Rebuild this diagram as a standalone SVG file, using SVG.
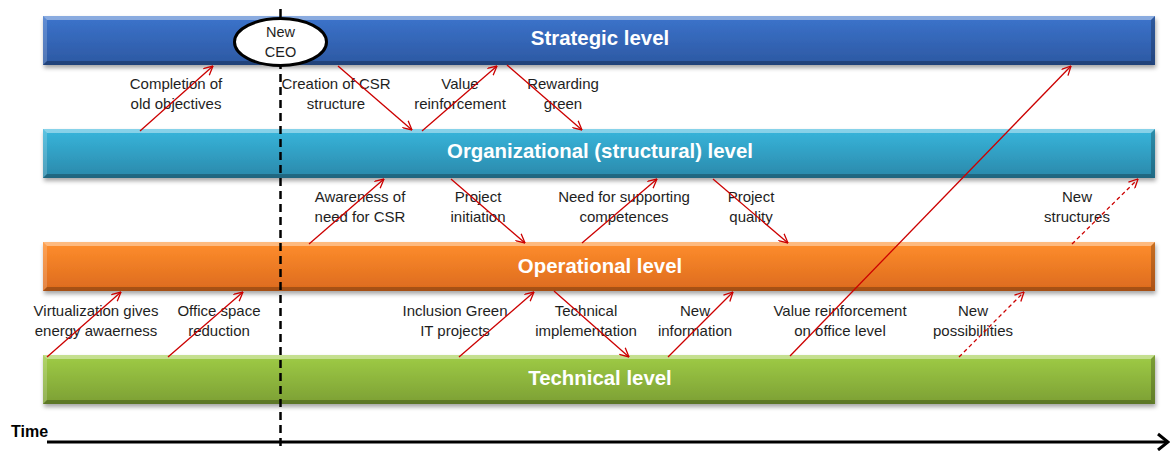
<svg xmlns="http://www.w3.org/2000/svg" width="1170" height="451" viewBox="0 0 1170 451">
<defs>
<style>
.lbl{font-family:"Liberation Sans",Arial,sans-serif;font-size:15px;fill:#1e1e1e;text-anchor:middle}
.title{font-family:"Liberation Sans",Arial,sans-serif;font-size:20.4px;font-weight:bold;fill:#ffffff;text-anchor:middle}
.arr{stroke:#cc0000;stroke-width:1.3;fill:none;marker-end:url(#ah)}
.dash{stroke-dasharray:4 3}
</style>
<filter id="sh" x="-2%" y="-20%" width="104%" height="150%">
<feDropShadow dx="1" dy="3" stdDeviation="2" flood-color="#000" flood-opacity="0.35"/>
</filter>
<marker id="ah" viewBox="0 0 10 10" refX="9.5" refY="5" markerWidth="10" markerHeight="10" markerUnits="userSpaceOnUse" orient="auto">
<path d="M0.5,0.5 L9.5,5 L0.5,9.5" fill="none" stroke="#cc0000" stroke-width="1.3"/>
</marker>
<linearGradient id="gS" x1="0" y1="0" x2="0" y2="1">
<stop offset="0" stop-color="#3c74cc"/><stop offset="1" stop-color="#2c58a2"/>
</linearGradient>
<linearGradient id="gO" x1="0" y1="0" x2="0" y2="1">
<stop offset="0" stop-color="#38b6dc"/><stop offset="1" stop-color="#2a88aa"/>
</linearGradient>
<linearGradient id="gP" x1="0" y1="0" x2="0" y2="1">
<stop offset="0" stop-color="#ff8e2c"/><stop offset="1" stop-color="#dc6a1e"/>
</linearGradient>
<linearGradient id="gT" x1="0" y1="0" x2="0" y2="1">
<stop offset="0" stop-color="#9fcc46"/><stop offset="1" stop-color="#7c9f34"/>
</linearGradient>
<g id="bevel">
<polygon points="0,0 1112,0 1108,4 4,4" fill="#ffffff" fill-opacity="0.4"/>
<polygon points="0,0 4,4 4,45 0,49" fill="#ffffff" fill-opacity="0.18"/>
<polygon points="1112,0 1112,49 1108,45 1108,4" fill="#000000" fill-opacity="0.22"/>
<polygon points="0,49 4,45 1108,45 1112,49" fill="#000000" fill-opacity="0.25"/>
</g>
</defs>
<rect width="1170" height="451" fill="#ffffff"/>

<g id="strategic" transform="translate(43,16)">
<rect width="1112" height="49" fill="url(#gS)" filter="url(#sh)"/>
<use href="#bevel"/>
<text class="title" x="557" y="29">Strategic level</text>
</g>
<g id="organizational" transform="translate(43,129)">
<rect width="1112" height="49" fill="url(#gO)" filter="url(#sh)"/>
<use href="#bevel"/>
<text class="title" x="557" y="29">Organizational (structural) level</text>
</g>
<g id="operational" transform="translate(43,242)">
<rect width="1112" height="49" fill="url(#gP)" filter="url(#sh)"/>
<use href="#bevel"/>
<text class="title" x="557" y="31">Operational level</text>
</g>
<g id="technical" transform="translate(43,355)">
<rect width="1112" height="49" fill="url(#gT)" filter="url(#sh)"/>
<use href="#bevel"/>
<text class="title" x="557" y="30">Technical level</text>
</g>

<g id="time-axis">
<line x1="47" y1="442" x2="1168" y2="442" stroke="#000" stroke-width="3"/>
<path d="M1158,434 L1168,442 L1158,450" fill="none" stroke="#000" stroke-width="3"/>
<text x="11" y="437" font-family="Liberation Sans,Arial,sans-serif" font-size="16" font-weight="bold" fill="#000">Time</text>
</g>

<g id="ceo-line">
<line x1="280.5" y1="9" x2="280.5" y2="451" stroke="#000" stroke-width="2.5" stroke-dasharray="8 5"/>
</g>

<g id="new-ceo">
<ellipse cx="280.5" cy="42" rx="46" ry="23.5" fill="#ffffff" stroke="#000" stroke-width="3"/>
<text class="lbl" x="280.5" y="37" style="font-size:14.5px">New</text>
<text class="lbl" x="280.5" y="57" style="font-size:14.5px">CEO</text>
</g>

<g id="labels">
<text class="lbl" x="176" y="89">Completion of</text>
<text class="lbl" x="176" y="109">old objectives</text>
<text class="lbl" x="336" y="89">Creation of CSR</text>
<text class="lbl" x="336" y="109">structure</text>
<text class="lbl" x="460" y="89">Value</text>
<text class="lbl" x="460" y="109">reinforcement</text>
<text class="lbl" x="563" y="89">Rewarding</text>
<text class="lbl" x="563" y="109">green</text>

<text class="lbl" x="360" y="202">Awareness of</text>
<text class="lbl" x="360" y="222">need for CSR</text>
<text class="lbl" x="478" y="202">Project</text>
<text class="lbl" x="478" y="222">initiation</text>
<text class="lbl" x="624" y="202">Need for supporting</text>
<text class="lbl" x="624" y="222">competences</text>
<text class="lbl" x="751" y="202">Project</text>
<text class="lbl" x="751" y="222">quality</text>
<text class="lbl" x="1077" y="202">New</text>
<text class="lbl" x="1077" y="222">structures</text>

<text class="lbl" x="96" y="316">Virtualization gives</text>
<text class="lbl" x="96" y="336">energy awaerness</text>
<text class="lbl" x="219" y="316">Office space</text>
<text class="lbl" x="219" y="336">reduction</text>
<text class="lbl" x="455" y="316">Inclusion Green</text>
<text class="lbl" x="455" y="336">IT projects</text>
<text class="lbl" x="586" y="316">Technical</text>
<text class="lbl" x="586" y="336">implementation</text>
<text class="lbl" x="695" y="316">New</text>
<text class="lbl" x="695" y="336">information</text>
<text class="lbl" x="840" y="316">Value reinforcement</text>
<text class="lbl" x="840" y="336">on office level</text>
<text class="lbl" x="973" y="316">New</text>
<text class="lbl" x="973" y="336">possibillities</text>
</g>

<g id="connectors">
<line class="arr" x1="140" y1="131" x2="213" y2="66"/>
<line class="arr" x1="338" y1="66" x2="412" y2="130"/>
<line class="arr" x1="422" y1="131" x2="497" y2="66"/>
<line class="arr" x1="507" y1="65" x2="582" y2="130"/>
<line class="arr" x1="790" y1="356" x2="1071" y2="66"/>
<line class="arr" x1="309" y1="244" x2="384" y2="179"/>
<line class="arr" x1="451" y1="179" x2="525" y2="243"/>
<line class="arr" x1="582" y1="243" x2="657" y2="179"/>
<line class="arr" x1="713" y1="179" x2="788" y2="243"/>
<line class="arr dash" x1="1072" y1="244" x2="1138" y2="179"/>
<line class="arr" x1="47" y1="357" x2="121" y2="292"/>
<line class="arr" x1="168" y1="357" x2="243" y2="292"/>
<line class="arr" x1="459" y1="357" x2="534" y2="292"/>
<line class="arr" x1="554" y1="291" x2="629" y2="357"/>
<line class="arr" x1="668" y1="357" x2="733" y2="292"/>
<line class="arr dash" x1="959" y1="357" x2="1024" y2="292"/>
</g>
</svg>
